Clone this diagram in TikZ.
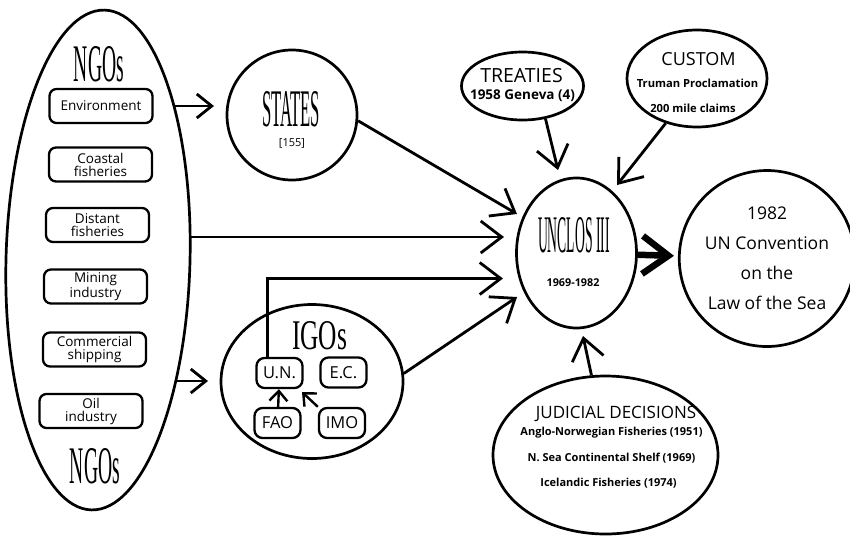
\documentclass[tikz,border=0pt]{standalone}
\usepackage{fontspec}
\setmainfont{Open Sans}
\newfontfamily\tallfont{Liberation Serif}
\usetikzlibrary{arrows.meta,shapes.geometric,calc}
\newcommand{\tallword}[3]{\resizebox{#1}{#2}{\tallfont #3}}
\tikzstyle{oval}=[ellipse,draw=black,line width=2.7pt,inner sep=0pt,align=center]
\tikzstyle{rb}=[rectangle,rounded corners=7pt,draw=black,line width=2.3pt,
  align=center,inner sep=0pt,minimum width=103pt,minimum height=34pt,
  font=\fontsize{13.5}{13}\selectfont]
\tikzstyle{sb}=[rectangle,rounded corners=8pt,draw=black,line width=2.3pt,
  inner sep=0pt,minimum width=46pt,minimum height=30pt,font=\fontsize{16.5}{16.5}\selectfont]
\tikzstyle{none}=[]
\tikzstyle{txt}=[inner sep=0pt]
\tikzstyle{arr}=[line width=2.8pt,-{Straight Barb[length=21pt,width=32pt]}]
\tikzstyle{sarr}=[line width=2.8pt,-{Straight Barb[length=15pt,width=24pt]}]
\tikzstyle{tarr}=[line width=2.4pt,-{Straight Barb[length=10pt,width=18pt]}]
\tikzstyle{barr}=[line width=6.5pt,-{Straight Barb[length=26pt,width=38pt]}]

\begin{document}
\begin{tikzpicture}[x=10pt,y=10pt]
	\useasboundingbox (0, 0) rectangle (85, -53.6);
	% NGOs
	\node [style=oval, minimum width=184pt, minimum height=500pt, rotate=-1.5] (0) at (9.8, -26) {};
	\node [style=txt] (1) at (9.9, -6.45) {\tallword{50pt}{35pt}{NGOs}};
	\node [style=txt] (2) at (9.5, -46.6) {\tallword{50pt}{35pt}{NGOs}};
	\node [style=rb] (3) at (10.1, -10.6) {Environment};
	\node [style=rb] (4) at (10.05, -16.45) {Coastal\\fisheries};
	\node [style=rb] (5) at (9.75, -22.5) {Distant\\fisheries};
	\node [style=rb] (6) at (9.55, -28.65) {Mining\\industry};
	\node [style=rb] (7) at (9.45, -34.95) {Commercial\\shipping};
	\node [style=rb] (8) at (9.1, -41.1) {Oil\\industry};
	% states and igos
	\node [style=oval, circle, minimum size=130pt] (9) at (29.2, -11.5) {};
	\node [style=txt] (42) at (29.1, -10.9) {\tallword{58pt}{35pt}{STATES}};
	\node [style=txt, font=\fontsize{11}{11}\selectfont] (43) at (29.2, -14.35) {[155]};
	\node [style=oval, minimum width=182pt, minimum height=154pt] (10) at (31.2, -38.15) {};
	\node [style=txt] (44) at (31.95, -33.6) {\tallword{55pt}{28pt}{IGOs}};
	\node [style=sb] (11) at (27.95, -37.3) {U.N.};
	\node [style=sb] (12) at (34.35, -37.25) {E.C.};
	\node [style=sb] (13) at (27.75, -42.3) {FAO};
	\node [style=sb] (14) at (34.2, -42.3) {IMO};
	% sources of law
	\node [style=oval, minimum width=122pt, minimum height=68pt] (15) at (52.25, -8.6) {};
	\node [style=txt, font=\fontsize{19.5}{19.5}\selectfont] (48) at (52.15, -7.6) {TREATIES};
	\node [style=txt, font=\fontsize{13.5}{13.5}\selectfont\bfseries] (49) at (52.25, -9.6) {1958 Geneva (4)};
	\node [style=oval, minimum width=140pt, minimum height=97pt] (16) at (69.7, -7.85) {};
	\node [style=txt, font=\fontsize{18}{18}\selectfont] (50) at (69.85, -5.9) {CUSTOM};
	\node [style=txt, font=\fontsize{11.2}{11.2}\selectfont\bfseries] (51) at (69.75, -8.3) {Truman Proclamation};
	\node [style=txt, font=\fontsize{11.2}{11.2}\selectfont\bfseries] (52) at (69.3, -10.8) {200 mile claims};
	\node [style=oval, minimum width=225pt, minimum height=158pt] (17) at (60.55, -45.5) {};
	\node [style=txt, font=\fontsize{17}{17}\selectfont] (53) at (61.6, -41.4) {JUDICIAL DECISIONS};
	\node [style=txt, font=\fontsize{11}{11}\selectfont\bfseries] (54) at (61.15, -43.3) {Anglo-Norwegian Fisheries (1951)};
	\node [style=txt, font=\fontsize{11}{11}\selectfont\bfseries] (55) at (61.15, -45.8) {N. Sea Continental Shelf (1969)};
	\node [style=txt, font=\fontsize{11}{11}\selectfont\bfseries] (56) at (60.85, -48.3) {Icelandic Fisheries (1974)};
	% conference and convention
	\node [style=oval, minimum width=120pt, minimum height=150pt] (18) at (57.65, -25.3) {};
	\node [style=txt] (45) at (57.4, -23.55) {\tallword{72pt}{35pt}{UNCLOS III}};
	\node [style=txt, font=\fontsize{10.8}{10.8}\selectfont\bfseries] (46) at (57.3, -28.3) {1969-1982};
	\node [style=oval, minimum width=165pt, minimum height=176pt, font=\fontsize{17.5}{30}\selectfont] (19) at (76.7, -25.85) {1982\\UN Convention\\on the\\Law of the Sea};
	% free ends
	\node [style=none] (20) at (17.4, -10.6) {};
	\node [style=none] (21) at (21.4, -10.6) {};
	\node [style=none] (22) at (19.0, -23.7) {};
	\node [style=none] (23) at (50.4, -23.7) {};
	\node [style=none] (24) at (17.5, -38.1) {};
	\node [style=none] (25) at (20.8, -38.1) {};
	\node [style=none] (26) at (51.7, -21.4) {};
	\node [style=none] (27) at (51.7, -29.7) {};
	\node [style=none] (28) at (50.3, -27.85) {};
	\node [style=none] (30) at (30.2, -39.2) {};
	\node [style=none] (31) at (55.8, -17.0) {};
	\node [style=none] (32) at (61.7, -18.5) {};
	\node [style=none] (33) at (58.3, -33.6) {};
	\draw [style=sarr] (20.center) to (21.center);
	\draw [style=arr] (22.center) to (23.center);
	\draw [style=sarr] (24.center) to (25.center);
	\draw [style=arr] (9.355) to (26.center);
	\draw [style=arr] (10.5) to (27.center);
	\draw [style=arr] ([xshift=-12pt]11.north) |- (28.center);
	\draw [style=tarr] (13) to (11);
	\draw [style=tarr] (14.north west) to (30.center);
	\draw [style=arr] (15.305) to (31.center);
	\draw [style=arr] (16.235) to (32.center);
	\draw [style=arr] (17.100) to (33.center);
	\draw [style=barr, shorten >=4pt] (18) to (19);
\end{tikzpicture}
\end{document}
